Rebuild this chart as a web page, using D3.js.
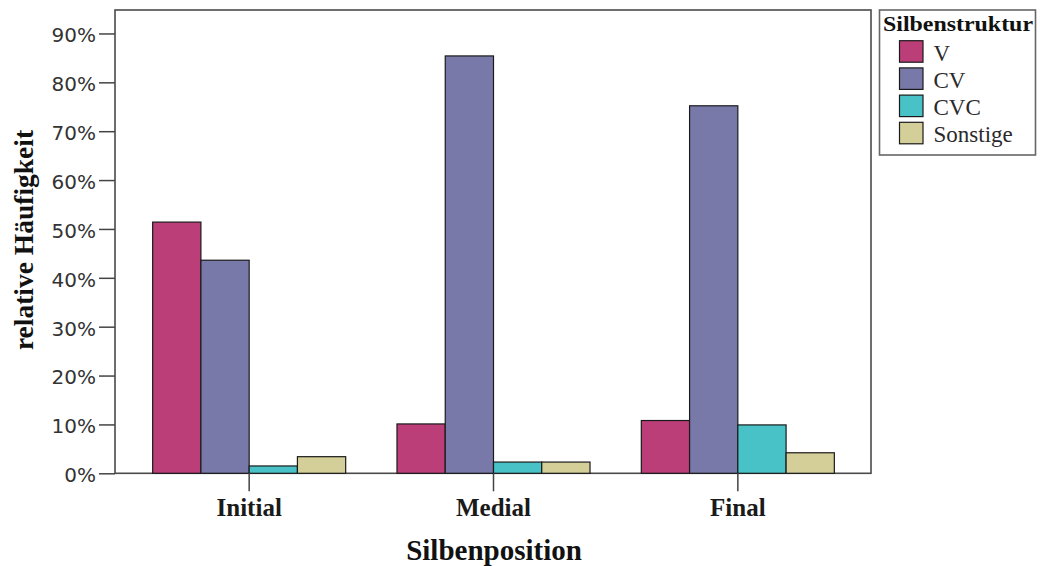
<!DOCTYPE html>
<html>
<head>
<meta charset="utf-8">
<script src="https://cdn.jsdelivr.net/npm/d3@7"></script>
<style>
  html, body { margin: 0; padding: 0; background: #fff; }
  svg { display: block; }
</style>
</head>
<body>
<svg id="chart" width="1040" height="566"></svg>
<script>
// Relative frequency of syllable structures by syllable position
const positions = ["Initial", "Medial", "Final"];
const structures = ["V", "CV", "CVC", "Sonstige"];
const valuesV = [0.514, 0.101, 0.108];
const valuesCV = [0.436, 0.854, 0.752];
const valuesCVC = [0.015, 0.023, 0.099];
const valuesSonstige = [0.034, 0.023, 0.042];
const yTickValues = [0, 0.1, 0.2, 0.3, 0.4, 0.5, 0.6, 0.7, 0.8, 0.9];
const colors = ["#bb3e79", "#7879a8", "#48c2c7", "#d4cf98"];

const seriesValues = [valuesV, valuesCV, valuesCVC, valuesSonstige];
const rows = [];
positions.forEach((p, i) => {
  structures.forEach((s, j) => rows.push({ position: p, structure: s, value: seriesValues[j][i] }));
});

const svg = d3.select("#chart");
const frame = { left: 115, right: 871, top: 10, bottom: 473.3 };

const x = d3.scaleBand()
  .domain(positions)
  .range([127, 860])
  .paddingInner(0.21)
  .paddingOuter(0.105);

const xSub = d3.scaleBand()
  .domain(structures)
  .range([0, x.bandwidth()]);

const y = d3.scaleLinear()
  .domain([0, 0.948])
  .range([frame.bottom, frame.top]);

const color = d3.scaleOrdinal().domain(structures).range(colors);

// plot frame
svg.append("rect")
  .attr("x", frame.left).attr("y", frame.top)
  .attr("width", frame.right - frame.left)
  .attr("height", frame.bottom - frame.top)
  .attr("fill", "#fff")
  .attr("stroke", "#4a4a4a")
  .attr("stroke-width", 1.6);

// bars
svg.append("g")
  .selectAll("rect")
  .data(rows)
  .join("rect")
  .attr("x", d => x(d.position) + xSub(d.structure))
  .attr("y", d => y(d.value))
  .attr("width", xSub.bandwidth())
  .attr("height", d => y(0) - y(d.value))
  .attr("fill", d => color(d.structure))
  .attr("stroke", "#1a1a1a")
  .attr("stroke-width", 1.2);

// y axis
const yAxis = svg.append("g")
  .attr("transform", `translate(${frame.left},0)`)
  .call(d3.axisLeft(y)
    .tickValues(yTickValues)
    .tickFormat(d3.format(".0%"))
    .tickSize(16)
    .tickPadding(3));
yAxis.select(".domain").remove();
yAxis.selectAll(".tick line").attr("stroke", "#444").attr("stroke-width", 1.5);
yAxis.selectAll(".tick text")
  .attr("font-family", "DejaVu Sans, sans-serif")
  .attr("font-size", 20)
  .attr("fill", "#333")
  .attr("dy", "0.42em");

// x axis
const xAxis = svg.append("g")
  .attr("transform", `translate(0,${frame.bottom})`)
  .call(d3.axisBottom(x).tickSize(18).tickPadding(7));
xAxis.select(".domain").remove();
xAxis.selectAll(".tick line").attr("stroke", "#444").attr("stroke-width", 1.5);
xAxis.selectAll(".tick text")
  .attr("font-family", "Liberation Serif, Times New Roman, serif")
  .attr("font-weight", "bold")
  .attr("font-size", 25)
  .attr("fill", "#1a1a1a");

// axis titles
svg.append("text")
  .attr("x", 494).attr("y", 560)
  .attr("text-anchor", "middle")
  .attr("font-family", "Liberation Serif, Times New Roman, serif")
  .attr("font-weight", "bold")
  .attr("font-size", 29)
  .attr("fill", "#111")
  .text("Silbenposition");

svg.append("text")
  .attr("transform", "translate(33,240) rotate(-90)")
  .attr("text-anchor", "middle")
  .attr("font-family", "Liberation Serif, Times New Roman, serif")
  .attr("font-weight", "bold")
  .attr("font-size", 27.5)
  .attr("fill", "#111")
  .text("relative Häufigkeit");

// legend
const legend = svg.append("g");
legend.append("rect")
  .attr("x", 879.5).attr("y", 10)
  .attr("width", 156).attr("height", 145)
  .attr("fill", "#fff")
  .attr("stroke", "#666")
  .attr("stroke-width", 1.6);
legend.append("text")
  .attr("x", 883).attr("y", 31)
  .attr("font-family", "Liberation Serif, Times New Roman, serif")
  .attr("font-weight", "bold")
  .attr("font-size", 21)
  .attr("textLength", 150)
  .attr("lengthAdjust", "spacingAndGlyphs")
  .attr("fill", "#111")
  .text("Silbenstruktur");

const items = legend.selectAll("g.item")
  .data(structures)
  .join("g")
  .attr("class", "item")
  .attr("transform", (d, i) => `translate(899.5,${40.7 + i * 27.2})`);
items.append("rect")
  .attr("width", 23.5).attr("height", 21.5)
  .attr("fill", d => color(d))
  .attr("stroke", "#1a1a1a")
  .attr("stroke-width", 1.2);
items.append("text")
  .attr("x", 34).attr("y", 20)
  .attr("font-family", "Liberation Serif, Times New Roman, serif")
  .attr("font-size", 23)
  .attr("fill", "#2a2a2a")
  .text(d => d);
</script>
</body>
</html>
